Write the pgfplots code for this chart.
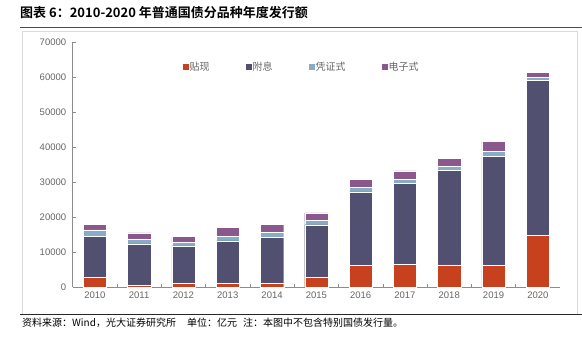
\documentclass[border=0pt]{standalone}
\usepackage{pgfplots}
\pgfplotsset{compat=1.18}
\usepackage{fontspec}
\setmainfont{Liberation Sans}
\newfontfamily\cjk{Noto Sans CJK SC}[BoldFont={Noto Sans CJK SC Bold}]
\definecolor{cRed}{HTML}{C8411F}
\definecolor{cNavy}{HTML}{525070}
\definecolor{cBlue}{HTML}{86ADC4}
\definecolor{cPurple}{HTML}{8A588C}
\definecolor{tickgray}{HTML}{666666}
\definecolor{axisgray}{HTML}{8C8C8C}
\begin{document}
\begin{tikzpicture}[x=1pt,y=1pt]
\useasboundingbox (0pt,0pt) rectangle (582pt,346pt);
\fill[white] (0pt,0pt) rectangle (582pt,346pt);
% title
\node[anchor=west,inner sep=0pt,font=\cjk\bfseries\fontsize{13}{15}\selectfont] at (20pt,333pt) {图表 6：2010-2020 年普通国债分品种年度发行额};
\draw[color=black!70,line width=1.2pt] (20pt,318.5pt) -- (582pt,318.5pt);
% frame
\draw[color=black!15,line width=0.6pt] (22pt,32pt) -- (22pt,315pt) -- (577pt,315pt) -- (577pt,32pt);
\draw[color=black!85,line width=1pt] (20pt,31.7pt) -- (582pt,31.7pt);
% source
\node[anchor=west,inner sep=0pt,font=\cjk\fontsize{10}{12}\selectfont] at (22pt,23.5pt) {资料来源：Wind，光大证券研究所};
\node[anchor=west,inner sep=0pt,font=\cjk\fontsize{10}{12}\selectfont] at (187pt,23.5pt) {单位：亿元};
\node[anchor=west,inner sep=0pt,font=\cjk\fontsize{10}{12}\selectfont] at (243pt,23.5pt) {注：本图中不包含特别国债发行量。};
\begin{axis}[
  at={(72.7pt,59pt)}, anchor=south west,
  scale only axis, width=487.3pt, height=245pt,
  xmin=-0.5, xmax=10.5, ymin=0, ymax=70000,
  ybar stacked, bar width=23.3pt,
  axis x line=bottom, axis y line=left,
  axis line style={-, color=axisgray, line width=0.8pt},
  tick style={color=axisgray, line width=0.6pt},
  tick align=inside, major tick length=3pt,
  ytick={0,10000,...,70000},
  yticklabel style={font=\fontsize{9.5}{11}\selectfont, color=tickgray, xshift=-3pt},
  scaled y ticks=false,
  /pgf/number format/1000 sep={},
  /pgf/number format/assume math mode=true,
  xtick={0.5,1.5,...,9.5}, xticklabels={},
  extra x ticks={0,1,2,3,4,5,6,7,8,9,10},
  extra x tick labels={2010,2011,2012,2013,2014,2015,2016,2017,2018,2019,2020},
  extra x tick style={major tick length=0pt},
  xticklabel style={font=\fontsize{9.5}{11}\selectfont, color=tickgray, yshift=-1pt},
  legend columns=4,
  legend style={at={(0.4685,0.898)}, anchor=center, draw=none, fill=none,
    font=\cjk\fontsize{10}{12}\selectfont, text=tickgray,
    /tikz/every even column/.append style={column sep=35pt},
    nodes={inner sep=1pt}},
  legend image code/.code={\fill[#1,draw=none] (0pt,-3pt) rectangle (6pt,3pt);},
  every axis plot/.append style={draw=white, line width=0.4pt},
]
\addplot[fill=cRed] coordinates {(0,2800) (1,500) (2,1000) (3,1000) (4,1000) (5,2700) (6,6100) (7,6500) (8,6300) (9,6100) (10,14800)};
\addplot[fill=cNavy] coordinates {(0,11600) (1,11800) (2,10800) (3,12200) (4,13200) (5,15100) (6,21100) (7,23100) (8,27000) (9,31300) (10,44150)};
\addplot[fill=cBlue] coordinates {(0,1900) (1,1300) (2,900) (3,1350) (4,1400) (5,1150) (6,1250) (7,1250) (8,1100) (9,1450) (10,1050)};
\addplot[fill=cPurple] coordinates {(0,1600) (1,1900) (2,1700) (3,2500) (4,2300) (5,2200) (6,2300) (7,2300) (8,2400) (9,2850) (10,1350)};
\legend{贴现,附息,凭证式,电子式}
\end{axis}
\end{tikzpicture}
\end{document}
